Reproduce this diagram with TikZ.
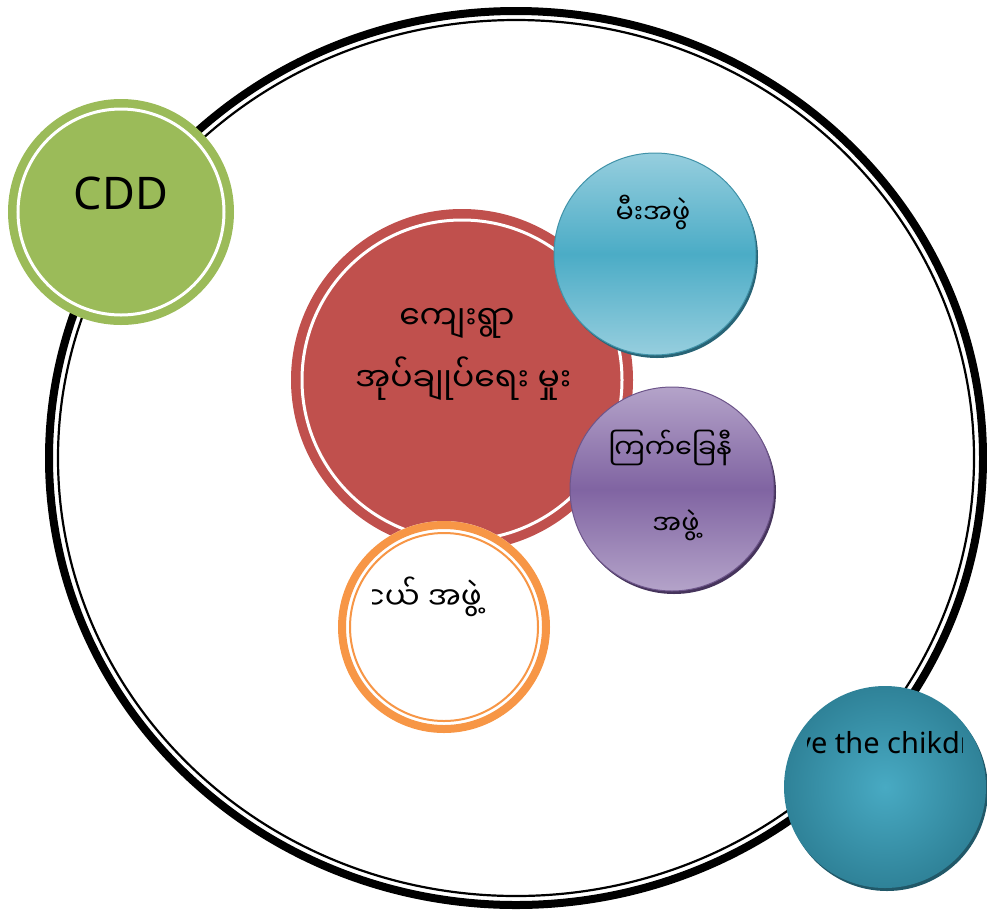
\documentclass[tikz,border=0pt]{standalone}
\usepackage{fontspec}
\newfontfamily\mmfont[Script=Myanmar]{Noto Sans Myanmar UI}
\newfontfamily\latfont{Noto Sans}
\definecolor{cred}{RGB}{192,80,77}
\definecolor{cgreen}{RGB}{155,187,89}
\definecolor{corange}{RGB}{247,150,70}
\definecolor{cbluel}{RGB}{150,206,222}
\definecolor{cbluem}{RGB}{75,172,198}
\definecolor{cblued}{RGB}{40,100,118}
\definecolor{cpurl}{RGB}{180,163,201}
\definecolor{cpurm}{RGB}{128,100,162}
\definecolor{cpurd}{RGB}{70,52,92}
\definecolor{ctealc}{RGB}{72,170,195}
\definecolor{cteale}{RGB}{47,130,152}
\definecolor{cteald}{RGB}{33,88,104}
\begin{document}
\begin{tikzpicture}[x=1pt,y=-1pt,
  mmtext/.style={font=\mmfont\fontsize{27}{31}\selectfont, inner sep=0pt, text=black},
  mmbig/.style={font=\mmfont\fontsize{33}{37}\selectfont, inner sep=0pt, text=black},
  lattext/.style={font=\latfont\fontsize{29}{33}\selectfont, inner sep=0pt, text=black}]
\useasboundingbox (0,0) rectangle (987,911);
% big double ellipse
\draw[line width=8pt] (516,458) ellipse [x radius=467, y radius=447];
\draw[line width=2.2pt] (516,458) ellipse [x radius=458, y radius=438];
% CDD circle
\fill[cgreen] (121,212) circle [radius=113];
\draw[white, line width=3pt] (121,212) circle [radius=103];
\node[font=\latfont\fontsize{45}{50}\selectfont, inner sep=0pt] (cdd) at (121,193) {CDD};
% red circle
\fill[cred] (462,380) circle [radius=171];
\draw[white, line width=3pt] (462,380) circle [radius=160];
\node[mmbig] (red1) at (457,323) {ကျေးရွာ};
\begin{scope}
  \clip (300,340) rectangle (571,420);
  \node[mmbig, anchor=west] (red2) at (355,379) {အုပ်ချုပ်ရေး မှုး};
\end{scope}
% blue circle
\fill[cblued] (657,257) circle [radius=101];
\shade[top color=cbluel, bottom color=cbluel, middle color=cbluem] (655,254) circle [radius=101];
\draw[cbluem!85!black, line width=1pt] (655,254) circle [radius=101];
\node[mmtext] (blue) at (653,212) {မီးအဖွဲ};
% purple circle
\fill[cpurd] (674,492) circle [radius=102];
\shade[top color=cpurl, bottom color=cpurl, middle color=cpurm] (672,489) circle [radius=102];
\draw[cpurm!85!black, line width=1pt] (672,489) circle [radius=102];
\node[mmtext] (pur1) at (670,448) {ကြက်ခြေနီ};
\node[mmtext] (pur2) at (676,525) {အဖွဲ့};
% orange circle
\fill[white] (444,627) circle [radius=106];
\draw[corange, line width=8pt] (444,627) circle [radius=102];
\draw[corange, line width=2pt] (444,627) circle [radius=94];
\begin{scope}
  \clip (372,560) rectangle (520,640);
  \node[font=\mmfont\fontsize{31}{35}\selectfont, inner sep=0pt, anchor=east] (ora) at (482,597) {လူငယ် အဖွဲ့};
\end{scope}
% teal circle
\fill[cteald] (887,790) circle [radius=101];
\shade[inner color=ctealc, outer color=cteale] (885,787) circle [radius=101];
\begin{scope}
  \clip (807,700) rectangle (962,780);
  \node[lattext, anchor=east] (stc) at (972,743) {ve the chikdr};
\end{scope}
\end{tikzpicture}
\end{document}
